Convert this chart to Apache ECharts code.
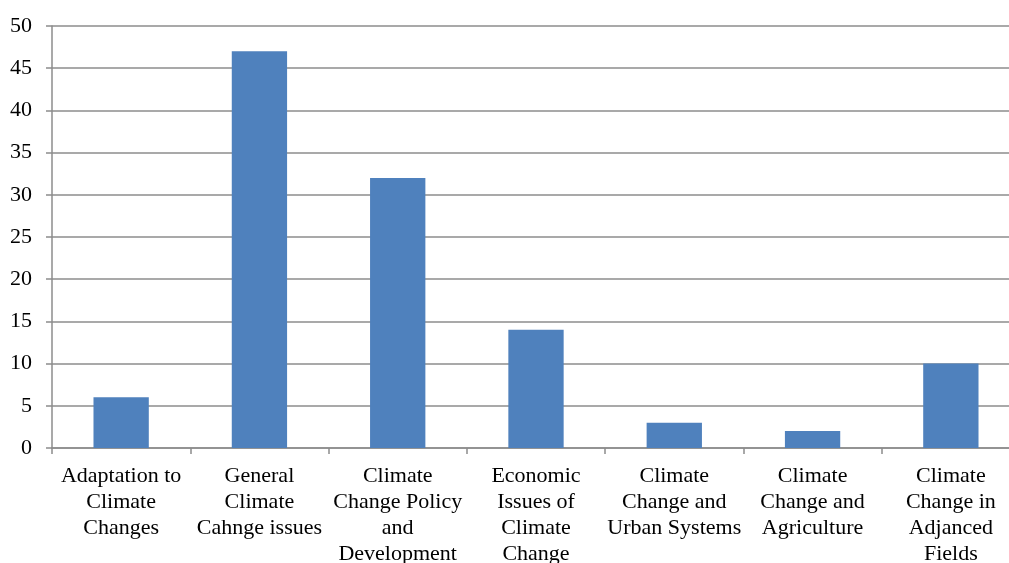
<!DOCTYPE html>
<html><head><meta charset="utf-8">
<script src="https://cdn.jsdelivr.net/npm/echarts@6/dist/echarts.min.js"></script>
<style>html,body{margin:0;padding:0;background:#fff}#c{width:1009px;height:563px}</style>
</head><body><div id="c"></div>
<script>
const categories = [
  "Adaptation to\nClimate\nChanges",
  "General\nClimate\nCahnge issues",
  "Climate\nChange Policy\nand\nDevelopment",
  "Economic\nIssues of\nClimate\nChange",
  "Climate\nChange and\nUrban Systems",
  "Climate\nChange and\nAgriculture",
  "Climate\nChange in\nAdjanced\nFields"
];
const values = [6, 47, 32, 14, 3, 2, 10];
const yMin = 0, yMax = 50, yStep = 5;

const chart = echarts.init(document.getElementById('c'), null, {renderer: 'canvas'});
const font = "'Liberation Serif', 'Times New Roman', serif";
chart.setOption({
  animation: false,
  grid: {left: 52, width: 968, top: 26, height: 422, containLabel: false, outerBoundsMode: 'none'},
  xAxis: {
    type: 'category', data: categories,
    axisLine: {lineStyle: {color: '#8c8c8c', width: 1.5}},
    axisTick: {show: true, alignWithLabel: false, length: 6, lineStyle: {color: '#8c8c8c', width: 1.5}},
    axisLabel: {interval: 0, color: '#000', fontFamily: font, fontSize: 22, lineHeight: 26, margin: 15, align: 'center'}
  },
  yAxis: {
    type: 'value', min: yMin, max: yMax, interval: yStep,
    axisLine: {show: true, lineStyle: {color: '#8c8c8c', width: 1.5}},
    axisTick: {show: true, length: 6, lineStyle: {color: '#8c8c8c', width: 1.5}},
    splitLine: {lineStyle: {color: '#8c8c8c', width: 1.5}},
    axisLabel: {color: '#000', fontFamily: font, fontSize: 22, margin: 20}
  },
  series: [{
    type: 'bar', data: values, barWidth: '40%',
    itemStyle: {color: '#4F81BD'}
  }]
});
</script></body></html>
